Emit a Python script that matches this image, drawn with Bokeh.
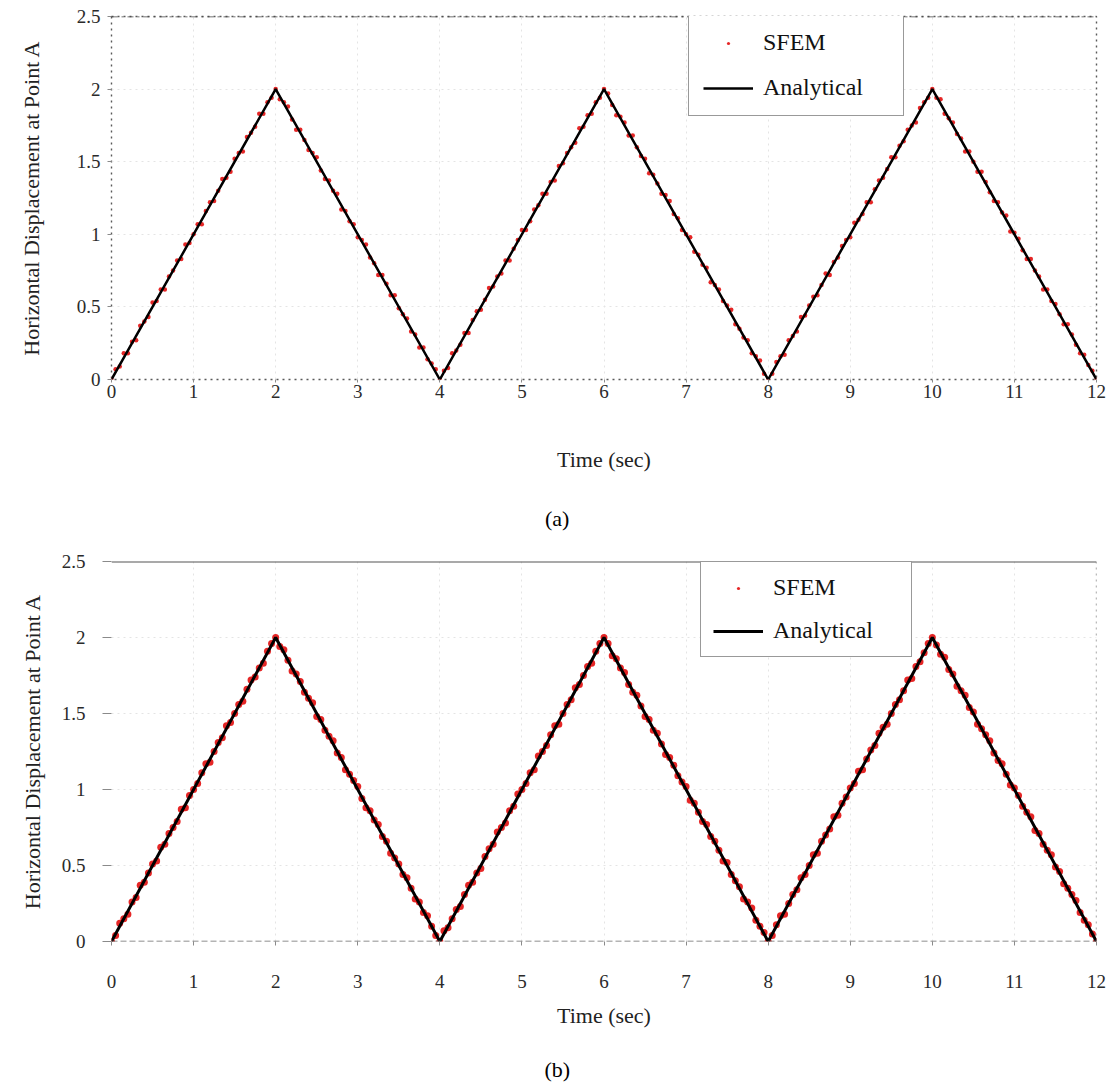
from bokeh.plotting import figure
from bokeh.layouts import column
from bokeh.models import (Legend, LegendItem, Span, FixedTicker,
                          NumeralTickFormatter, LinearAxis)
from bokeh.embed import file_html
from bokeh.resources import INLINE

# ---------------- data ----------------
time_vertices = [0, 2, 4, 6, 8, 10, 12]
analytical_u = [0, 2, 0, 2, 0, 2, 0]

x_ticks = [0, 1, 2, 3, 4, 5, 6, 7, 8, 9, 10, 11, 12]
y_ticks = [0, 0.5, 1, 1.5, 2, 2.5]

# SFEM sample times (s) -- 0.05 s output step
sfem_t = [round(0.05 * i, 2) for i in range(241)]

# SFEM displacement
sfem_a_seg1 = [0.00, 0.07, 0.09, 0.18, 0.18, 0.26, 0.27, 0.37, 0.40, 0.43, 0.53, 0.54, 0.62, 0.62,
               0.71, 0.75, 0.82, 0.83, 0.93, 0.94, 1.00, 1.07, 1.07, 1.16, 1.22, 1.23, 1.30, 1.38,
               1.39, 1.43, 1.52, 1.56, 1.57, 1.67, 1.70, 1.74, 1.83, 1.83, 1.91, 1.94, 2.00]
sfem_a_seg2 = [1.93, 1.91, 1.88, 1.79, 1.72, 1.72, 1.65, 1.58, 1.56, 1.53, 1.44, 1.38, 1.37, 1.30,
               1.28, 1.17, 1.16, 1.09, 1.07, 0.98, 0.96, 0.93, 0.84, 0.80, 0.72, 0.72, 0.66, 0.58,
               0.58, 0.49, 0.45, 0.42, 0.33, 0.31, 0.22, 0.22, 0.14, 0.11, 0.07, 0.00]
sfem_a_seg3 = [0.06, 0.08, 0.18, 0.20, 0.24, 0.32, 0.32, 0.41, 0.47, 0.48, 0.55, 0.63, 0.64, 0.71,
               0.73, 0.82, 0.82, 0.90, 0.96, 1.03, 1.03, 1.09, 1.17, 1.20, 1.28, 1.28, 1.36, 1.37,
               1.47, 1.49, 1.56, 1.60, 1.63, 1.73, 1.74, 1.82, 1.83, 1.91, 1.94, 2.00]
sfem_a_seg4 = [1.97, 1.89, 1.82, 1.81, 1.77, 1.68, 1.68, 1.60, 1.54, 1.52, 1.42, 1.41, 1.35, 1.28,
               1.27, 1.23, 1.14, 1.11, 1.03, 1.00, 0.98, 0.88, 0.86, 0.79, 0.77, 0.67, 0.65, 0.62,
               0.54, 0.51, 0.48, 0.38, 0.35, 0.29, 0.27, 0.18, 0.16, 0.13, 0.04, 0.00]
sfem_a_seg5 = [0.04, 0.12, 0.16, 0.17, 0.27, 0.30, 0.33, 0.43, 0.44, 0.51, 0.57, 0.58, 0.65, 0.73,
               0.72, 0.81, 0.84, 0.92, 0.96, 0.98, 1.08, 1.10, 1.14, 1.22, 1.22, 1.31, 1.37, 1.39,
               1.45, 1.53, 1.53, 1.61, 1.64, 1.72, 1.75, 1.77, 1.87, 1.91, 1.94, 2.00]
sfem_a_seg6 = [1.94, 1.93, 1.83, 1.80, 1.77, 1.69, 1.66, 1.57, 1.57, 1.50, 1.43, 1.43, 1.36, 1.29,
               1.23, 1.22, 1.15, 1.13, 1.02, 1.01, 0.97, 0.89, 0.83, 0.83, 0.75, 0.71, 0.62, 0.62,
               0.54, 0.52, 0.45, 0.38, 0.38, 0.31, 0.24, 0.18, 0.17, 0.10, 0.06, 0.00]

# SFEM displacement
sfem_b_seg1 = [0.00, 0.04, 0.12, 0.15, 0.18, 0.26, 0.29, 0.37, 0.39, 0.45, 0.51, 0.53, 0.62, 0.64,
               0.71, 0.75, 0.79, 0.87, 0.88, 0.96, 1.00, 1.04, 1.11, 1.17, 1.18, 1.25, 1.31, 1.34,
               1.42, 1.44, 1.50, 1.56, 1.58, 1.66, 1.72, 1.74, 1.80, 1.83, 1.91, 1.96, 2.00]
sfem_b_seg2 = [1.94, 1.92, 1.85, 1.78, 1.76, 1.71, 1.64, 1.60, 1.57, 1.48, 1.46, 1.39, 1.35, 1.32,
               1.24, 1.21, 1.13, 1.10, 1.06, 1.02, 0.94, 0.88, 0.86, 0.80, 0.77, 0.69, 0.66, 0.58,
               0.55, 0.51, 0.44, 0.42, 0.35, 0.28, 0.26, 0.19, 0.17, 0.10, 0.04, 0.00]
sfem_b_seg3 = [0.07, 0.09, 0.15, 0.21, 0.23, 0.31, 0.37, 0.39, 0.45, 0.48, 0.56, 0.61, 0.64, 0.72,
               0.75, 0.78, 0.86, 0.89, 0.97, 1.00, 1.04, 1.11, 1.13, 1.22, 1.25, 1.29, 1.36, 1.42,
               1.43, 1.50, 1.56, 1.59, 1.67, 1.69, 1.75, 1.81, 1.83, 1.91, 1.96, 2.00]
sfem_b_seg4 = [1.96, 1.88, 1.86, 1.80, 1.77, 1.69, 1.64, 1.62, 1.55, 1.48, 1.46, 1.39, 1.37, 1.30,
               1.23, 1.21, 1.16, 1.09, 1.05, 1.02, 0.93, 0.91, 0.85, 0.79, 0.77, 0.69, 0.66, 0.60,
               0.53, 0.52, 0.44, 0.40, 0.36, 0.28, 0.26, 0.22, 0.14, 0.10, 0.06, 0.00]
sfem_b_seg5 = [0.04, 0.11, 0.17, 0.18, 0.25, 0.31, 0.34, 0.42, 0.44, 0.50, 0.57, 0.58, 0.66, 0.70,
               0.74, 0.82, 0.83, 0.91, 0.95, 1.01, 1.04, 1.12, 1.13, 1.20, 1.26, 1.29, 1.37, 1.41,
               1.43, 1.50, 1.56, 1.59, 1.65, 1.72, 1.73, 1.81, 1.84, 1.90, 1.96, 2.00]
sfem_b_seg6 = [1.95, 1.89, 1.87, 1.79, 1.76, 1.68, 1.65, 1.62, 1.54, 1.51, 1.43, 1.40, 1.36, 1.32,
               1.24, 1.19, 1.17, 1.10, 1.03, 1.01, 0.96, 0.89, 0.85, 0.82, 0.73, 0.71, 0.64, 0.60,
               0.57, 0.49, 0.46, 0.38, 0.35, 0.31, 0.27, 0.19, 0.14, 0.11, 0.05, 0.00]

sfem_a = sfem_a_seg1 + sfem_a_seg2 + sfem_a_seg3 + sfem_a_seg4 + sfem_a_seg5 + sfem_a_seg6
sfem_b = sfem_b_seg1 + sfem_b_seg2 + sfem_b_seg3 + sfem_b_seg4 + sfem_b_seg5 + sfem_b_seg6

x_title = "Time (sec)"
y_title = "Horizontal Displacement at Point A"
captions = ["(a)", "(b)"]

SERIF = "Liberation Serif"
NBSP = "\u00a0"


def make_panel(sfem_u, height, top, bottom, caption, cfg):
    p = figure(width=1115, height=height, x_range=(0, 12), y_range=(0, 2.5),
               output_backend="svg", toolbar_location=None,
               min_border_left=111, min_border_right=19,
               min_border_top=top, min_border_bottom=bottom,
               background_fill_color="white", border_fill_color="white")

    p.xaxis.ticker = FixedTicker(ticks=x_ticks)
    p.yaxis.ticker = FixedTicker(ticks=y_ticks)
    p.yaxis.formatter = NumeralTickFormatter(format="0.[0]")
    for ax in (p.xaxis[0], p.yaxis[0]):
        ax.axis_line_color = None
        ax.major_tick_line_color = "#8a8a8a"
        ax.major_tick_in = 0
        ax.minor_tick_line_color = None
        ax.major_label_text_font = SERIF
        ax.major_label_text_font_size = "19px"
        ax.major_label_text_color = "#2a2a2a"
        ax.axis_label_text_font = SERIF
        ax.axis_label_text_font_size = "22px"
        ax.axis_label_text_font_style = "normal"
        ax.axis_label_text_color = "#222222"
    p.xaxis.axis_label = x_title
    p.yaxis.axis_label = y_title
    p.xaxis.major_tick_out = cfg["xtick_out"]
    p.xaxis.major_label_standoff = cfg["xlab_standoff"]
    p.xaxis.axis_label_standoff = cfg["xtitle_standoff"]
    p.yaxis.major_tick_out = cfg["ytick_out"]
    p.yaxis.major_label_standoff = cfg["ylab_standoff"]
    p.yaxis.axis_label_standoff = cfg["ytitle_standoff"]

    # caption line under the panel: a tick-less axis carrying only its label
    cap = LinearAxis(ticker=FixedTicker(ticks=[]), axis_label=caption + NBSP * 17,
                     axis_line_color=None, major_tick_line_color=None,
                     minor_tick_line_color=None, major_label_standoff=0,
                     major_tick_out=0, axis_label_standoff=cfg["cap_standoff"],
                     axis_label_text_font=SERIF, axis_label_text_font_size="22px",
                     axis_label_text_font_style="normal", axis_label_text_color="black")
    p.add_layout(cap, "below")

    p.xgrid.grid_line_color = "#e4e4e4"
    p.ygrid.grid_line_color = "#e4e4e4"
    p.xgrid.grid_line_dash = "dotted"
    p.ygrid.grid_line_dash = "dotted"

    r_sfem = p.scatter(sfem_t, sfem_u, marker="circle", size=cfg["msize"],
                       fill_color="#e00000", line_color=None, fill_alpha=0.85)
    r_line = p.line(time_vertices, analytical_u, line_color="black",
                    line_width=cfg["lwidth"])

    legend = Legend(items=[LegendItem(label="SFEM", renderers=[r_sfem]),
                           LegendItem(label="Analytical", renderers=[r_line])],
                    location=cfg["leg_loc"], margin=0, padding=cfg["leg_pad"],
                    spacing=cfg["leg_spacing"], glyph_width=50, glyph_height=8,
                    label_height=26, label_width=126, label_standoff=10,
                    label_text_font=SERIF, label_text_font_size="24px",
                    label_text_color="#111111",
                    border_line_color="#333333", border_line_dash=cfg["leg_dash"],
                    border_line_width=1.3,
                    background_fill_color="white", background_fill_alpha=1)
    p.add_layout(legend)
    return p


cfg_a = dict(xtick_out=3, xlab_standoff=2, xtitle_standoff=46, cap_standoff=31,
             ytick_out=4, ylab_standoff=7, ytitle_standoff=30,
             msize=4.5, lwidth=2.5, leg_loc=(577, 263), leg_pad=14,
             leg_spacing=18, leg_dash="solid")
cfg_b = dict(xtick_out=4, xlab_standoff=29, xtitle_standoff=12, cap_standoff=26,
             ytick_out=9, ylab_standoff=17, ytitle_standoff=14,
             msize=7, lwidth=3, leg_loc=(589, 284), leg_pad=12,
             leg_spacing=16, leg_dash="dashed")

pa = make_panel(sfem_a, 540, 16, 161, captions[0], cfg_a)
pa.outline_line_color = "#5a5a5a"
pa.outline_line_dash = "dotted"
pa.outline_line_width = 1.4
pa.add_layout(Span(location=2.5, dimension="width", line_color="#444444",
                   line_dash="dashdot", line_width=1.5))

pb = make_panel(sfem_b, 544, 21, 143, captions[1], cfg_b)
pb.outline_line_color = None
pb.add_layout(Span(location=2.5, dimension="width", line_color="#555555",
                   line_width=2))
pb.add_layout(Span(location=0, dimension="width", line_color="#6a6a6a",
                   line_dash="6 3", line_width=1.5))
pb.add_layout(Span(location=12, dimension="height", line_color="#777777",
                   line_dash="dotted", line_width=1.3))

layout = column(pa, pb, spacing=0)
open("out.html", "w").write(file_html(layout, INLINE))
